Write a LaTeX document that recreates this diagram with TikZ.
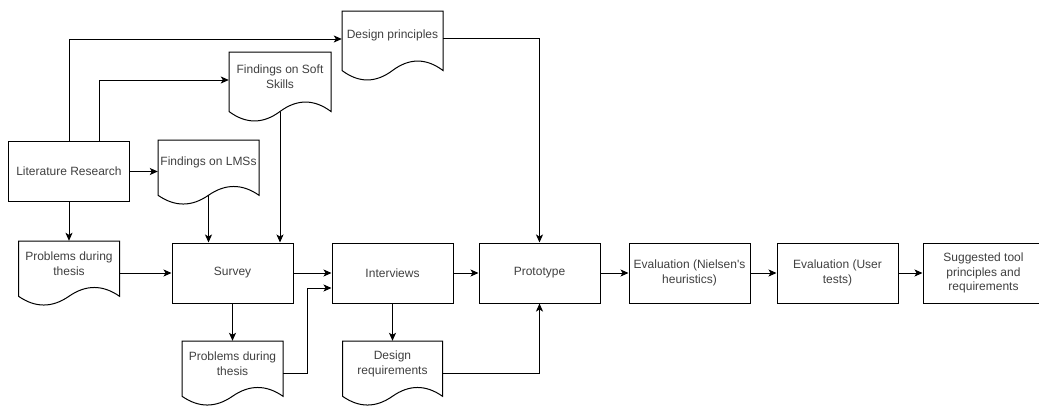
\documentclass[tikz,border=0pt]{standalone}
\usepackage{fontspec}
\setmainfont{Liberation Sans}
\usetikzlibrary{arrows.meta}
\tikzset{
  txt/.style={font=\fontsize{12}{14.6}\selectfont, text=black!75, align=center},
  box/.style={txt, draw=black, line width=1pt, minimum width=121pt, minimum height=60pt, inner sep=2pt},
  doctext/.style={txt, inner sep=0pt},
  docline/.style={draw=black, line width=1pt, line join=miter},
  arr/.style={draw=black, line width=1pt, -{Stealth[length=8pt,width=7pt,inset=2pt]}},
}
% #1 name, #2 left, #3 top, #4 width, #5 height, #6 text
\newcommand{\docnode}[6]{%
  \draw[docline] (#2,#3) -- (#2+#4,#3) -- (#2+#4,#3+0.85*#5)
    .. controls (#2+0.8333*#4,#3+0.67*#5) and (#2+0.6667*#4,#3+0.67*#5) .. (#2+0.5*#4,#3+0.85*#5)
    .. controls (#2+0.3333*#4,#3+1.03*#5) and (#2+0.1667*#4,#3+1.03*#5) .. (#2,#3+0.85*#5) -- cycle;
  \node[doctext, minimum width=#4pt, minimum height=0.7*#5pt] (#1) at (#2+0.5*#4,#3+0.35*#5) {#6};
  \coordinate (#1b) at (#2+0.5*#4,#3+0.85*#5);
}
\begin{document}
\begin{tikzpicture}[x=1pt,y=-1pt]
\useasboundingbox[fill=white] (0,0) rectangle (1039,405);

% process boxes
\node[box] (lit) at (69,171.5) {Literature Research};
\node[box] (survey) at (232.5,273) {Survey};
\node[box] (interviews) at (392.5,273) {Interviews};
\node[box] (prototype) at (539.5,273) {Prototype};
\node[box] (evalA) at (689.5,273) {Evaluation (Nielsen\textquotesingle s\\heuristics)};
\node[box] (evalB) at (837.5,273) {Evaluation (User\\tests)};
\node[box] (suggested) at (983.5,273) {Suggested tool\\principles and\\requirements};

% documents
\docnode{dp}{342}{11}{101}{70}{Design principles}
\docnode{soft}{229}{52}{102}{70}{Findings on Soft\\Skills}
\docnode{lms}{158}{140}{101}{65}{Findings on LMSs}
\docnode{probA}{18.5}{241}{101}{65}{Problems during\\thesis}
\docnode{probB}{182}{341}{101}{65}{Problems during\\thesis}
\docnode{dreq}{342.5}{341}{100}{65}{Design\\requirements}

% connectors
\draw[arr] (lit.north) |- ([yshift=-3.5pt]dp.west);
\draw[arr] ([xshift=30pt]lit.north) |- ([yshift=-3.5pt]soft.west);
\draw[arr] (lit.east) -- (lit.east -| lms.west);
\draw[arr] (lit.south) -- (lit.south |- probA.north);
\draw[arr] (lmsb) -- (lmsb |- survey.north);
\draw[arr] (softb) -- (softb |- survey.north);
\draw[arr] (survey.west -| probA.east) -- (survey.west);
\draw[arr] (survey.east) -- (interviews.west);
\draw[arr] (survey.south) -- (survey.south |- probB.north);
\draw[arr] ([yshift=-9.25pt]probB.east) -- ++(24,0) |- ([yshift=-15pt]interviews.west);
\draw[arr] (interviews.east) -- (prototype.west);
\draw[arr] (interviews.south) -- (interviews.south |- dreq.north);
\draw[arr] ([yshift=-9.25pt]dreq.east) -| (prototype.south);
\draw[arr] ([yshift=-3pt]dp.east) -| (prototype.north);
\draw[arr] (prototype.east) -- (evalA.west);
\draw[arr] (evalA.east) -- (evalB.west);
\draw[arr] (evalB.east) -- (suggested.west);
\end{tikzpicture}
\end{document}
